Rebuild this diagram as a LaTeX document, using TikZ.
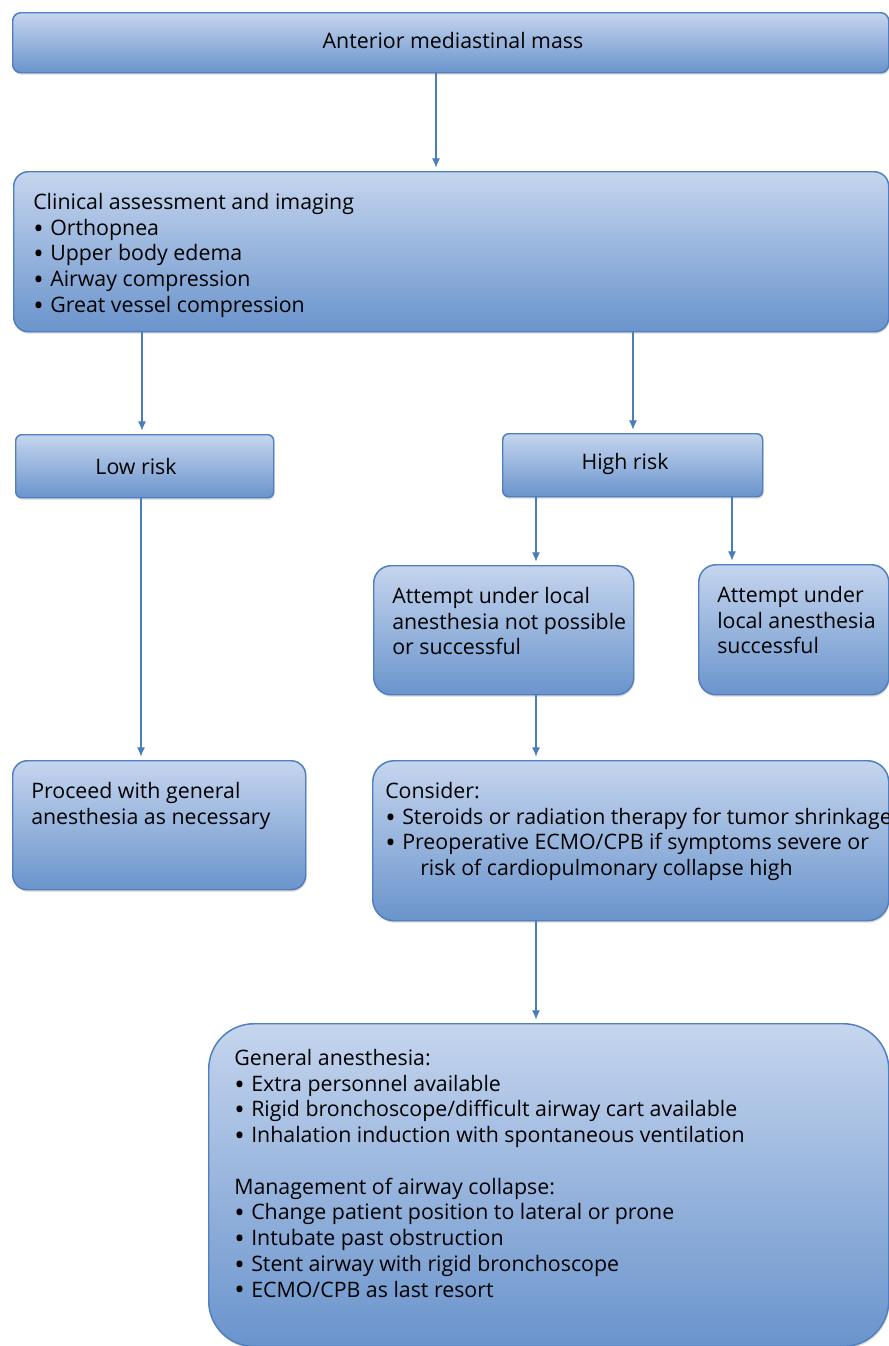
\documentclass[tikz,border=0pt]{standalone}
\usepackage{fontspec}
\usepackage{graphicx}
\setmainfont{Open Sans}
\usetikzlibrary{arrows.meta,shadows}
\definecolor{boxborder}{HTML}{4F7FBE}
\definecolor{boxtop}{HTML}{C5D5EE}
\definecolor{boxbot}{HTML}{6A94CC}
\definecolor{arrowcol}{HTML}{4A7EBB}
\newcommand{\bul}{\makebox[12.75pt][l]{\raisebox{-2.1pt}{\scalebox{1.3}{\textbullet}}}}
\tikzset{
  box/.style={draw=boxborder, line width=1.1pt, top color=boxtop, bottom color=boxbot,
    rectangle, inner sep=0pt, anchor=north west,
    drop shadow={opacity=0.25, shadow xshift=0.6pt, shadow yshift=-1.5pt, fill=black!60}},
  txt/.style={inner sep=0pt, anchor=north west, align=left, font=\fontsize{16}{19.3}\selectfont},
  ctxt/.style={inner sep=0pt, font=\fontsize{16}{19.3}\selectfont},
  arr/.style={draw=arrowcol, line width=0.8pt, -{Latex[length=7pt,width=6pt]}, shorten >=2.5pt}
}
\begin{document}
\begin{tikzpicture}[x=0.75pt,y=-0.75pt]
\clip (0,0) rectangle (889,1346);
\fill[white] (0,0) rectangle (889,1346);
% boxes
\node[box, rounded corners=6pt, minimum width=657pt, minimum height=45pt] (b1) at (12,12) {};
\node[box, rounded corners=11pt, minimum width=656.25pt, minimum height=120pt] (b2) at (13,171) {};
\node[box, rounded corners=4.5pt, minimum width=193.5pt, minimum height=47.25pt] (low) at (15,434) {};
\node[box, rounded corners=4.5pt, minimum width=195pt, minimum height=47.25pt] (high) at (502,433) {};
\node[box, rounded corners=13pt, minimum width=195pt, minimum height=96.75pt] (a1) at (373,565) {};
\node[box, rounded corners=13pt, minimum width=142.5pt, minimum height=97.5pt] (a2) at (698,564) {};
\node[box, rounded corners=11pt, minimum width=219.75pt, minimum height=96.75pt] (proc) at (12,760) {};
\node[box, rounded corners=16pt, minimum width=387pt, minimum height=120pt] (cons) at (372,760) {};
\node[box, rounded corners=34pt, minimum width=510pt, minimum height=242pt] (gen) at (208,1023) {};
% texts
\node[ctxt] (t1) at (453,40) {Anterior mediastinal mass};
\node[txt] (t2) at (33,193) {Clinical assessment and imaging\\
\bul Orthopnea\\
\bul Upper body edema\\
\bul Airway compression\\
\bul Great vessel compression};
\node[ctxt] (tlow) at (136,466) {Low risk};
\node[ctxt] (thigh) at (625,464) {High risk};
\node[txt] (ta1) at (392,587) {Attempt under local\\anesthesia not possible\\or successful};
\node[txt] (ta2) at (717,586) {Attempt under\\local anesthesia\\successful};
\node[txt] (tproc) at (31,782) {Proceed with general\\anesthesia as necessary};
\node[txt] (tcons) at (385,782) {Consider:\\
\bul Steroids or radiation therapy for tumor shrinkage\\
\bul Preoperative ECMO/CPB if symptoms severe or\\
\hspace*{26.25pt}risk of cardiopulmonary collapse high};
\node[txt] (tgen) at (234,1049) {General anesthesia:\\
\bul Extra personnel available\\
\bul Rigid bronchoscope/difficult airway cart available\\
\bul Inhalation induction with spontaneous ventilation\\[19.3pt]
Management of airway collapse:\\
\bul Change patient position to lateral or prone\\
\bul Intubate past obstruction\\
\bul Stent airway with rigid bronchoscope\\
\bul ECMO/CPB as last resort};
% x positions
\coordinate (xa) at (436,0);
\coordinate (xb) at (142,0);
\coordinate (xc) at (633,0);
\coordinate (xd) at (536,0);
\coordinate (xe) at (732,0);
\coordinate (xf) at (141,0);
% arrows
\draw[arr] (b1.south -| xa) -- (b2.north -| xa);
\draw[arr] (b2.south -| xb) -- (low.north -| xb);
\draw[arr] (b2.south -| xc) -- (high.north -| xc);
\draw[arr] (high.south -| xd) -- (a1.north -| xd);
\draw[arr] (high.south -| xe) -- (a2.north -| xe);
\draw[arr] (low.south -| xf) -- (proc.north -| xf);
\draw[arr] (a1.south -| xd) -- (cons.north -| xd);
\draw[arr] (cons.south -| xd) -- (gen.north -| xd);
\end{tikzpicture}
\end{document}
